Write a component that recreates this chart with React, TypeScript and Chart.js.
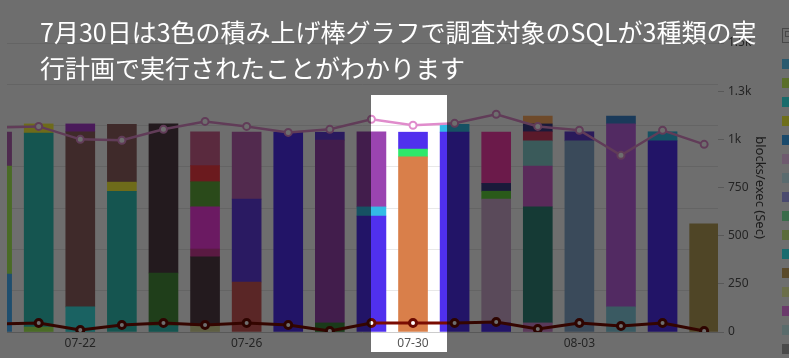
import React, { useEffect, useRef } from "react";
import { Chart, registerables } from "chart.js";

Chart.register(...registerables);

// ---- data ----
const days = ["07-20", "07-21", "07-22", "07-23", "07-24", "07-25", "07-26", "07-27", "07-28", "07-29", "07-30", "07-31", "08-01", "08-02", "08-03", "08-04", "08-05", "08-06"];
const tickDays = ["07-22", "07-26", "07-30", "08-03"];

// stacked segments, bottom (layer1) to top (layer7)
const layer1 = [140, 12, 61, 341, 15, 15, 121, 484, 22, 281, 424, 484, 22, 22, 463, 61, 463, 262];
const layer2 = [262, 470, 424, 22, 128, 167, 201, null, 443, 22, 19, 19, 300, 281, 22, 443, 22, null];
const layer3 = [82, 22, 19, 140, 361, 19, 162, null, 19, 182, 41, null, 19, 99, null, 19, null, null];
const layer4 = [null, null, null, null, null, 102, null, null, null, null, null, null, 19, 61, null, null, null, null];
const layer5 = [null, null, null, null, null, 61, null, null, null, null, null, null, 124, 22, null, null, null, null];
const layer6 = [null, null, null, null, null, 39, null, null, null, null, null, null, null, 19, null, null, null, null];
const layer7 = [null, null, null, null, null, 82, null, null, null, null, null, null, null, 19, null, null, null, null];

const avgLine = [1062, 1067, 1000, 995, 1052, 1093, 1067, 1036, 1052, 1104, 1073, 1083, 1130, 1067, 1047, 917, 1047, 974];
const lowLine = [41, 47, 10, 36, 47, 36, 47, 36, 5, 47, 47, 47, 52, 16, 47, 31, 47, 5];

const rightTickLabels = ["0", "250", "500", "750", "1k", "1.3k", "1.5k"];
const rightAxisTitle = "blocks/exec (Sec)";
const caption1 = "7月30日は3色の積み上げ棒グラフで調査対象のSQLが3種類の実";
const caption2 = "行計画で実行されたことがわかります";

// ---- styles ----
const BLUE = "#5030ee";
const CYAN = "#33bbe6";
const color1 = ["#48b5ff", "#acf958", "#3ce4e4", "#31c6ba", "#31c6ba", "#dbdb99", "#d15858", BLUE, "#3c873c", BLUE, "#d97f4a", BLUE, BLUE, "#d187d1", "#87acd1", "#87d1e4", BLUE, "#b8a058"];
const color2 = ["#acf958", "#31c6ba", "#936262", "#fff73c", "#48903c", "#513c46", "#623ce4", BLUE, "#9a44b0", CYAN, "#2ee86a", CYAN, "#d1acd1", "#31877b", "#623cd1", "#bf62e4", CYAN, BLUE];
const color3 = ["#b562b5", "#fff73c", "#ac3cd1", "#936262", "#513c46", "#d13c99", "#bf62b5", BLUE, "#623cdb", "#9a44b0", BLUE, BLUE, "#62d13c", "#d162d1", BLUE, "#3c87d1", BLUE, BLUE];
const color4 = ["#000", "#000", "#000", "#000", "#000", "#f73ce4", "#000", "#000", "#000", "#000", "#000", "#000", "#3c3c87", "#87d1d1", "#000", "#000", "#000", "#000"];
const color5 = ["#000", "#000", "#000", "#000", "#000", "#62ac3c", "#000", "#000", "#000", "#000", "#000", "#000", "#f73cac", "#d13c62", "#000", "#000", "#000", "#000"];
const color6 = ["#000", "#000", "#000", "#000", "#000", "#f73c46", "#000", "#000", "#000", "#000", "#000", "#000", "#000", "#3c3c87", "#000", "#000", "#000", "#000"];
const color7 = ["#000", "#000", "#000", "#000", "#000", "#d16290", "#000", "#000", "#000", "#000", "#000", "#000", "#000", "#ffac62", "#000", "#000", "#000", "#000"];

const legendColors = ["#62d1ff", "#d1ff62", "#3cf7f7", "#ffff3c", "#3cacf7", "#ffd1ff", "#d1f7ff", "#acacff", "#87f7ac", "#d1f787", "#3cf7ff", "#d1ac62", "#f7ffac", "#f787f7", "#d1f7f7", "#acacac"];

const W = 789;
const H = 358;
const FONT = "'Noto Sans', 'DejaVu Sans', sans-serif";

export default function App() {
  const ref = useRef<HTMLCanvasElement | null>(null);

  useEffect(() => {
    if (!ref.current) return;
    const layers = [layer1, layer2, layer3, layer4, layer5, layer6, layer7];
    const colors = [color1, color2, color3, color4, color5, color6, color7];
    const tickIdx = tickDays.map((d) => days.indexOf(d));

    const barSets = layers.map((vals, li) => ({
      type: "bar" as const,
      label: "layer" + (li + 1),
      data: vals.map((v, i) => ({ x: i, y: v })),
      backgroundColor: colors[li],
      borderWidth: 0,
      barThickness: 29,
      yAxisID: "y",
      stack: "s",
      order: 2,
    }));

    const chart = new Chart(ref.current, {
      type: "bar",
      data: {
        datasets: [
          ...barSets,
          {
            type: "line",
            label: "avg",
            data: avgLine.map((v, i) => ({ x: i, y: v })),
            borderColor: "#e08ccc",
            borderWidth: 2.5,
            pointRadius: 3.5,
            pointBorderWidth: 2,
            pointBackgroundColor: "#ffffff",
            pointBorderColor: "#e08ccc",
            yAxisID: "y2",
            order: 0,
            tension: 0,
          },
          {
            type: "line",
            label: "low",
            data: lowLine.map((v, i) => ({ x: i, y: v })),
            borderColor: "#7a0c02",
            borderWidth: 3,
            pointRadius: 3.5,
            pointBorderWidth: 3,
            pointBackgroundColor: "#ffffff",
            pointBorderColor: "#6a0a02",
            yAxisID: "y2",
            order: 0,
            tension: 0,
          },
        ] as any,
      },
      options: {
        animation: false,
        responsive: false,
        devicePixelRatio: 1,
        layout: { padding: { top: 43, right: 11, left: 0, bottom: 0 } },
        plugins: { legend: { display: false }, tooltip: { enabled: false } },
        scales: {
          x: {
            type: "linear",
            min: 0.238,
            max: 17.333,
            offset: false,
            stacked: true,
            grid: { display: false, drawTicks: false },
            border: { display: false },
            ticks: {
              autoSkip: false,
              maxRotation: 0,
              padding: 4,
              color: "#555",
              font: { family: FONT, size: 12 },
              callback: (v: any) => days[Math.round(Number(v))] ?? "",
            },
            afterBuildTicks: (s: any) => {
              s.ticks = tickIdx.map((v) => ({ value: v }));
            },
            afterFit: (s: any) => {
              s.height = 26;
            },
          },
          y: {
            type: "linear",
            position: "left",
            stacked: true,
            min: 0,
            max: 700,
            ticks: { display: false, stepSize: 100 },
            grid: {
              drawTicks: false,
              color: (c: any) => (c.tick && c.tick.value === 0 ? "#cccccc" : "#e8e8e8"),
            },
            border: { display: false },
            afterFit: (s: any) => {
              s.width = 0;
            },
          },
          y2: {
            type: "linear",
            position: "right",
            min: 0,
            max: 1500,
            ticks: {
              stepSize: 250,
              padding: 4,
              color: "#555",
              font: { family: FONT, size: 12 },
              callback: (v: any) => rightTickLabels[Math.round(Number(v) / 250)] ?? "",
            },
            grid: { drawOnChartArea: false, tickLength: 6, tickColor: "#cccccc" },
            border: { display: false },
            title: {
              display: true,
              text: rightAxisTitle,
              color: "#444",
              font: { family: FONT, size: 13 },
              padding: { top: 10, bottom: 0 },
            },
            afterFit: (s: any) => {
              s.width = 60;
            },
          },
        },
      } as any,
    });
    return () => chart.destroy();
  }, []);

  return (
    <div style={{ position: "fixed", left: 0, top: 0, width: W, height: H, overflow: "hidden", background: "#fff" }}>
      <canvas ref={ref} width={W} height={H} style={{ position: "absolute", left: 0, top: 0, width: W, height: H }} />
      <div style={{ position: "absolute", left: 782, top: 28, width: 14, height: 15, border: "1.5px solid #a8a8a8", boxSizing: "border-box" }}>
        <div style={{ position: "absolute", left: 2, top: 2, width: 8, height: 4, border: "1px solid #a8a8a8" }} />
      </div>
      {legendColors.map((c, i) => (
        <div key={i} style={{ position: "absolute", left: 782, top: 59 + i * 19, width: 14, height: 10, background: c }} />
      ))}
      <div
        style={{
          position: "absolute",
          left: 371,
          top: 95,
          width: 76,
          height: 257,
          boxShadow: "0 0 0 1500px rgba(0,0,0,0.57)",
        }}
      />
      <div
        style={{
          position: "absolute",
          left: 40,
          top: 13,
          color: "#fff",
          fontFamily: "'Noto Sans CJK JP', sans-serif",
          fontSize: 25,
          lineHeight: "36px",
          whiteSpace: "nowrap",
        }}
      >
        {caption1}
        <br />
        {caption2}
      </div>
    </div>
  );
}
